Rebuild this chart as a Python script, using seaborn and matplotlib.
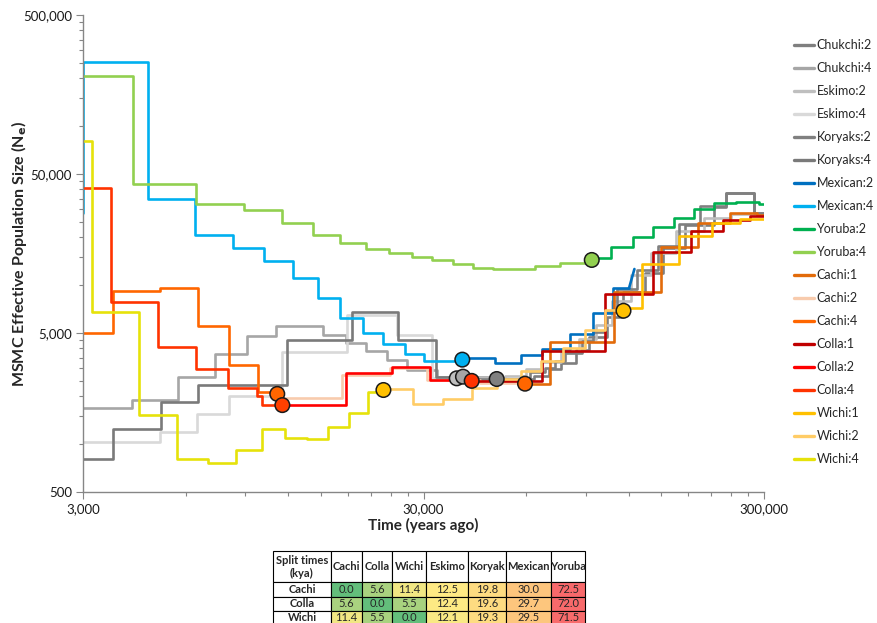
"""MSMC effective population size curves with split-time table."""

import matplotlib.pyplot as plt
import matplotlib.ticker as mticker
from matplotlib.colors import LinearSegmentedColormap, TwoSlopeNorm
from matplotlib.lines import Line2D
import seaborn as sns


sns.set_theme(style="white")
plt.rcParams["font.family"] = ["Lato", "DejaVu Sans"]

# --- step curves: time (years ago) at each step start, Ne for that step ---
chukchi2_t = [49220, 63500, 70000, 76000, 84000, 92000, 104000, 116000, 134000, 152000, 176000, 214000, 232000, 280400, 300000]
chukchi2_ne = [2568, 2700, 2950, 3250, 3900, 4700, 6300, 9000, 11900, 17000, 24000, 31000, 38130, 28420, 28420]
chukchi4_t = [3000, 4170, 5690, 7330, 9090, 11060, 15210, 17760, 20340, 23390, 26780, 32800, 49220]
chukchi4_ne = [1695, 1895, 2633, 3690, 4822, 5494, 4857, 4307, 3870, 3382, 2926, 2633, 2633]
eskimo2_t = [37560, 52000, 60000, 67000, 76000, 86000, 96000, 107000, 122000, 140000, 165000, 200000, 240000, 300000]
eskimo2_ne = [2590, 2700, 2950, 3300, 3800, 4600, 5600, 8000, 11500, 16000, 22000, 26500, 28000, 28000]
eskimo4_t = [3000, 5036, 6483, 8077, 11520, 17850, 25030, 31710, 37560]
eskimo4_ne = [1024, 1192, 1547, 2008, 3797, 6489, 4857, 2606, 2606]
koryaks2_t = [39180, 61650, 68240, 73000, 78120, 87640, 94400, 102400, 111000, 127500, 146800, 169200, 194600, 232000, 280400, 300000]
koryaks2_ne = [2568, 2842, 3012, 3333, 3742, 4452, 5095, 6776, 9457, 12450, 17630, 24240, 31450, 38130, 28420, 28420]
koryaks4_t = [3000, 3681, 5085, 6544, 11900, 18460, 25240, 32550, 39180]
koryaks4_ne = [803, 1245, 1833, 2345, 4518, 6826, 4518, 2656, 2656]
mexican2_t = [39000, 48660, 57990, 66840, 80800, 94390, 107700, 120400]
mexican2_ne = [3481, 3238, 3636, 3967, 4928, 6727, 9551, 9551]
mexican2_end_t = [120400, 124900]
mexican2_end_ne = [9551, 12630]
mexican4_t = [2950, 3000, 4670, 6400, 8260, 10230, 12390, 14700, 17110, 19890, 22880, 26390, 30160, 39000]
mexican4_ne = [28300, 252000, 34670, 20670, 17200, 14180, 11040, 8265, 6232, 5000, 4277, 3710, 3333, 3333]
yoruba2_t = [93600, 106600, 124000, 141900, 163200, 187500, 214600, 247800, 289400, 300000]
yoruba2_ne = [14820, 17250, 20000, 23210, 26560, 30120, 32860, 33570, 32150, 32150]
yoruba4_t = [3000, 4200, 6450, 8900, 11500, 14200, 17100, 20300, 23800, 27700, 31800, 36500, 41900, 47900, 63900, 75500, 93600]
yoruba4_ne = [206700, 43250, 32500, 29500, 24700, 20700, 18500, 16800, 15900, 15100, 14400, 13600, 12900, 12700, 13200, 13800, 14400]
cachi1_t = [59600, 70580, 109000, 149200, 192400, 238400, 286100, 300000]
cachi1_ne = [2389, 4408, 9055, 17250, 24700, 28220, 27500, 27500]
cachi2_t = [11160, 17290, 23920, 30650, 43960, 59600]
cachi2_ne = [1960, 2722, 3000, 2532, 2425, 2425]
cachi4_t = [3000, 3680, 5050, 6520, 8070, 9820, 11160]
cachi4_ne = [5000, 9190, 9550, 5530, 3150, 2120, 2120]
colla1_t = [41560, 66710, 102700, 141900, 182800, 226600, 272900, 300000]
colla1_ne = [2496, 3880, 8797, 16230, 22060, 25860, 27210, 27210]
colla2_t = [11550, 17760, 24190, 31350, 41560]
colla2_ne = [1760, 2814, 3069, 2532, 2532]
colla4_t = [3000, 3620, 4970, 6430, 7980, 9710, 10050, 11550]
colla4_ne = [40600, 7870, 4100, 2950, 2260, 2020, 1760, 1760]
wichi1_t = [116000, 131200, 169200, 210700, 255100, 300000]
wichi1_ne = [7150, 13580, 20290, 24600, 25940, 25940]
wichi2_t = [22880, 27850, 34340, 41650, 49150, 57810, 66630, 77040, 89130, 102400, 116000]
wichi2_ne = [2222, 1801, 1923, 2255, 2587, 2892, 3333, 4008, 5200, 6946, 6946]
wichi4_t = [3000, 3180, 4380, 5650, 7000, 8440, 10050, 11790, 13610, 15710, 18070, 20610, 22880]
wichi4_ne = [80650, 6780, 1520, 810, 757, 919, 1240, 1098, 1077, 1282, 1570, 2128, 2128]

# --- junction markers ---
marker_t = [11160, 11550, 22880, 37560, 39180, 39000, 41560, 49220, 59600, 93600, 116000]
marker_ne = [2070, 1760, 2190, 2594, 2656, 3400, 2500, 2568, 2400, 14400, 6900]
marker_col = ["#FF6600", "#FF4000", "#FFC000", "#BFBFBF", "#A6A6A6", "#00B0F0",
              "#FF3300", "#808080", "#FF6600", "#92D050", "#FFC000"]

# --- split time table (kya) ---
table_cols = ["Cachi", "Colla", "Wichi", "Eskimo", "Koryak", "Mexican", "Yoruba"]
table_rows = ["Cachi", "Colla", "Wichi"]
split_cachi = [0.0, 5.6, 11.4, 12.5, 19.8, 30.0, 72.5]
split_colla = [5.6, 0.0, 5.5, 12.4, 19.6, 29.7, 72.0]
split_wichi = [11.4, 5.5, 0.0, 12.1, 19.3, 29.5, 71.5]

series = [
    ("Chukchi:2", chukchi2_t, chukchi2_ne, "#7F7F7F"),
    ("Chukchi:4", chukchi4_t, chukchi4_ne, "#A6A6A6"),
    ("Eskimo:2", eskimo2_t, eskimo2_ne, "#BFBFBF"),
    ("Eskimo:4", eskimo4_t, eskimo4_ne, "#D9D9D9"),
    ("Koryaks:2", koryaks2_t, koryaks2_ne, "#808080"),
    ("Koryaks:4", koryaks4_t, koryaks4_ne, "#7A7A7A"),
    ("Mexican:2", mexican2_t, mexican2_ne, "#0070C0"),
    ("Mexican:4", mexican4_t, mexican4_ne, "#00B0F0"),
    ("Yoruba:2", yoruba2_t, yoruba2_ne, "#00B050"),
    ("Yoruba:4", yoruba4_t, yoruba4_ne, "#92D050"),
    ("Cachi:1", cachi1_t, cachi1_ne, "#E26B0A"),
    ("Cachi:2", cachi2_t, cachi2_ne, "#F8CBAD"),
    ("Cachi:4", cachi4_t, cachi4_ne, "#FF6600"),
    ("Colla:1", colla1_t, colla1_ne, "#C00000"),
    ("Colla:2", colla2_t, colla2_ne, "#FF0000"),
    ("Colla:4", colla4_t, colla4_ne, "#FF3300"),
    ("Wichi:1", wichi1_t, wichi1_ne, "#FFC000"),
    ("Wichi:2", wichi2_t, wichi2_ne, "#FFCC66"),
    ("Wichi:4", wichi4_t, wichi4_ne, "#E6E20A"),
]

fig = plt.figure(figsize=(8.77, 6.23), dpi=100)
ax = fig.add_axes([83 / 877, 131 / 623, 681 / 877, 477 / 623])
ax.set_xscale("log")
ax.set_yscale("log")

for i, (name, t, ne, col) in enumerate(series):
    sns.lineplot(x=t, y=ne, drawstyle="steps-post", color=col, linewidth=1.9,
                 ax=ax, zorder=2 + i * 0.01, legend=False)
    if name == "Mexican:2":
        sns.lineplot(x=mexican2_end_t, y=mexican2_end_ne, color=col, linewidth=1.9,
                     ax=ax, zorder=2 + i * 0.01, legend=False)

sns.scatterplot(x=marker_t, y=marker_ne, hue=list(range(len(marker_t))),
                palette=marker_col, s=110, edgecolor="#1A1A1A", linewidth=1.1,
                ax=ax, zorder=5, legend=False)

ax.set_xlim(3000, 300000)
ax.set_ylim(500, 500000)

ax.xaxis.set_major_locator(mticker.FixedLocator([3000, 30000, 300000]))
ax.xaxis.set_minor_locator(mticker.FixedLocator([3000 * k * 10 ** n for n in range(2) for k in range(2, 10)]))
ax.yaxis.set_major_locator(mticker.FixedLocator([500, 5000, 50000, 500000]))
ax.yaxis.set_minor_locator(mticker.FixedLocator([500 * k * 10 ** n for n in range(3) for k in range(2, 10)]))
fmt = mticker.FuncFormatter(lambda v, _: f"{v:,.0f}")
ax.xaxis.set_major_formatter(fmt)
ax.yaxis.set_major_formatter(fmt)
ax.xaxis.set_minor_formatter(mticker.NullFormatter())
ax.yaxis.set_minor_formatter(mticker.NullFormatter())

for side in ["top", "right"]:
    ax.spines[side].set_visible(False)
for side in ["left", "bottom"]:
    ax.spines[side].set_color("#868686")
    ax.spines[side].set_linewidth(1.0)
ax.tick_params(which="both", bottom=True, left=True, direction="out", color="#868686", width=0.8)
ax.tick_params(which="major", length=5, labelsize=9.5, labelcolor="#1A1A1A", pad=3)
ax.tick_params(which="minor", length=3)

ax.set_xlabel("Time (years ago)", fontsize=11, fontweight="bold")
ax.set_ylabel(r"MSMC Effective Population Size (N$_\mathbf{e}$)", fontsize=11.5, fontweight="bold")
ax.xaxis.set_label_coords(0.5, -0.054)
ax.yaxis.set_label_coords(-0.08, 0.5)

handles = [Line2D([], [], color=col, linewidth=2.4) for _, _, _, col in series]
labels = [name for name, _, _, _ in series]
fig.legend(handles, labels, loc="upper left", bbox_to_anchor=(789 / 877, 1 - 34 / 623),
           frameon=False, fontsize=9, handlelength=1.6, handletextpad=0.2,
           labelspacing=0.88, borderaxespad=0)

# --- table ---
cmap = LinearSegmentedColormap.from_list("split", ["#63BE7B", "#FFEB84", "#F8696B"])
norm = TwoSlopeNorm(vmin=0.0, vcenter=12.5, vmax=72.5)
values = [split_cachi, split_colla, split_wichi]
cell_text = [["Split times\n(kya)"] + table_cols]
cell_colours = [["white"] * (len(table_cols) + 1)]
for rname, row in zip(table_rows, values):
    cell_text.append([rname] + [f"{v:.1f}" for v in row])
    cell_colours.append(["white"] + [cmap(norm(v)) for v in row])

tax = fig.add_axes([273 / 877, -2 / 623, 312 / 877, 74 / 623])
tax.axis("off")
tbl = tax.table(cellText=cell_text, cellColours=cell_colours, cellLoc="center", bbox=[0, 0, 1, 1])
tbl.auto_set_font_size(False)
col_w = [58, 31, 30, 34, 42, 38, 45, 34]
row_h = [31, 14, 14, 14]
for (r, c), cell in tbl.get_celld().items():
    cell.set_width(col_w[c])
    cell.set_height(row_h[r])
    cell.set_edgecolor("black")
    cell.set_linewidth(0.8)
    cell.get_text().set_fontsize(8)
    if r == 0 or c == 0:
        cell.get_text().set_fontweight("bold")

fig.savefig("out.png", dpi=100)
